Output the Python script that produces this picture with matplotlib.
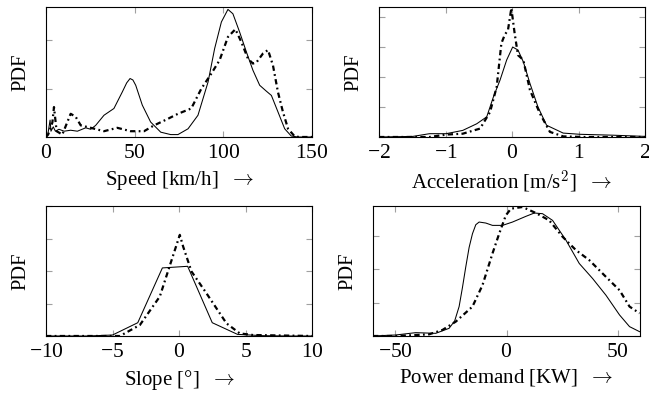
import matplotlib
matplotlib.use("Agg")
import matplotlib.pyplot as plt
import numpy as np

plt.rcParams['font.family'] = ['Liberation Serif', 'DejaVu Serif']
plt.rcParams['mathtext.fontset'] = 'cm'
plt.rcParams['axes.formatter.use_mathtext'] = True

# ---- data (PDF values in arbitrary units, tick spacing = 1) ----
speed_solid_x = [0, 1.1, 2.3, 2.8, 4.1, 5.3, 7.3, 10.2, 13.9, 17.7, 22.4, 25.2, 28, 32.7, 38.3, 43, 45.5, 47.4, 49, 50.6, 54.3, 59, 64.7, 70.3, 74.4, 80.1, 85.7, 91.4, 95.1, 98.9, 102.6, 105.4, 109.2, 113, 116.7, 120.5, 124.2, 127.1, 130.8, 134.6, 138.3, 142.1, 150]
speed_solid_y = [0, 0.07, 0.35, 0.12, 0.21, 0.12, 0.16, 0.12, 0.14, 0.12, 0.19, 0.16, 0.24, 0.45, 0.59, 0.93, 1.12, 1.21, 1.18, 1.07, 0.66, 0.31, 0.1, 0.05, 0.05, 0.17, 0.45, 1.14, 1.83, 2.38, 2.64, 2.55, 2.17, 1.76, 1.38, 1.07, 0.95, 0.86, 0.52, 0.17, 0.02, 0, 0]
speed_dash_x = [0, 1.2, 3.6, 4.5, 5.0, 6, 9.2, 13.9, 16.7, 19.6, 25.2, 32.7, 40.2, 47.7, 55.3, 60.9, 68.4, 74.4, 81.9, 87.6, 93.2, 97.9, 102.6, 106.8, 110.1, 113.9, 116.7, 118.6, 122.4, 125.2, 128, 130.8, 133.6, 136.5, 140.3, 143, 150]
speed_dash_y = [0, 0.05, 0.3, 0.62, 0.45, 0.12, 0.05, 0.48, 0.42, 0.24, 0.19, 0.12, 0.19, 0.12, 0.12, 0.24, 0.37, 0.48, 0.59, 1.0, 1.31, 1.59, 2.07, 2.23, 1.97, 1.62, 1.52, 1.54, 1.73, 1.8, 1.48, 0.93, 0.52, 0.17, 0.01, 0, 0]

acc_solid_x = [-2, -1.49, -1.24, -0.99, -0.74, -0.53, -0.38, -0.28, -0.18, -0.08, 0.01, 0.09, 0.17, 0.27, 0.39, 0.52, 0.77, 1.02, 1.52, 2.0]
acc_solid_y = [0, 0.02, 0.11, 0.11, 0.22, 0.44, 0.67, 1.33, 1.89, 2.56, 2.99, 2.89, 2.5, 1.78, 1.0, 0.39, 0.13, 0.09, 0.06, 0.02]
acc_dash_x = [-2, -1.24, -0.99, -0.74, -0.48, -0.33, -0.23, -0.16, -0.11, -0.06, -0.01, 0.04, 0.09, 0.17, 0.27, 0.42, 0.57, 0.77, 1.07, 2.0]
acc_dash_y = [0, 0, 0.08, 0.11, 0.28, 0.83, 1.67, 3.11, 3.39, 3.56, 4.28, 3.44, 2.72, 2.56, 1.56, 0.78, 0.17, 0.02, 0, 0]

slope_solid_x = [-10, -8.2, -6.9, -5, -3.1, -1.25, 0.65, 2.5, 4.4, 6.3, 8.2, 10]
slope_solid_y = [0, 0, 0, 0.03, 0.41, 2.1, 2.15, 0.41, 0.05, 0.01, 0, 0]
slope_dash_x = [-10, -5.5, -4.44, -2.94, -1.44, -0.81, 0.06, 0.31, 0.94, 2.06, 3.57, 4.57, 5.57, 10]
slope_dash_y = [0, 0, 0, 0.34, 1.22, 2.02, 3.12, 2.76, 1.99, 1.32, 0.39, 0.08, 0.03, 0]

power_solid_x = [-60.4, -49.8, -40.8, -31.8, -25.8, -23.3, -21.3, -19.8, -18.3, -16.8, -15.3, -13.8, -12.3, -9.3, -6.3, -1.8, 2.7, 8.7, 12.5, 16.2, 20.7, 26.7, 32.7, 38.7, 44.7, 50.8, 55.3, 59.8]
power_solid_y = [0, 0.03, 0.1, 0.08, 0.23, 0.45, 0.88, 1.45, 2.07, 2.65, 3.06, 3.33, 3.41, 3.38, 3.31, 3.31, 3.41, 3.58, 3.68, 3.66, 3.46, 2.87, 2.17, 1.72, 1.22, 0.63, 0.28, 0.13]
power_dash_x = [-60, -49.8, -34.8, -28.8, -22.8, -15.3, -10.8, -6.3, -3.3, -0.3, 2.0, 7.2, 13.2, 19.2, 25.2, 31.2, 37.2, 44.7, 50.8, 55.3, 59.8]
power_dash_y = [0, 0, 0.05, 0.18, 0.43, 0.88, 1.52, 2.47, 3.06, 3.61, 3.81, 3.86, 3.68, 3.46, 2.97, 2.57, 2.27, 1.77, 1.37, 0.88, 0.68]

panels = [
    dict(box=(46, 7, 312, 137), xlim=(0, 150), xticks=[0, 50, 100, 150], ytop=2.69,
         sx=speed_solid_x, sy=speed_solid_y, dx=speed_dash_x, dy=speed_dash_y,
         label=r"Speed [km/h]  $\rightarrow$"),
    dict(box=(379, 7, 645, 137), xlim=(-2, 2), xticks=[-2, -1, 0, 1, 2], ytop=4.32,
         sx=acc_solid_x, sy=acc_solid_y, dx=acc_dash_x, dy=acc_dash_y,
         label=r"Acceleration [m/s$^2$]  $\rightarrow$"),
    dict(box=(46, 206, 312, 336), xlim=(-10, 10), xticks=[-10, -5, 0, 5, 10], ytop=4.01,
         sx=slope_solid_x, sy=slope_solid_y, dx=slope_dash_x, dy=slope_dash_y,
         label="Slope [\u00b0]  $\\rightarrow$"),
    dict(box=(373, 206, 640, 336), xlim=(-60, 60), xticks=[-50, 0, 50], ytop=3.89,
         sx=power_solid_x, sy=power_solid_y, dx=power_dash_x, dy=power_dash_y,
         label=r"Power demand [KW]  $\rightarrow$"),
]

W, H = 649, 397
fig = plt.figure(figsize=(W / 100, H / 100), dpi=100)

for p in panels:
    x0, y0, x1, y1 = p['box']
    ax = fig.add_axes([x0 / W, (H - y1) / H, (x1 - x0) / W, (y1 - y0) / H])
    ax.plot(p['sx'], p['sy'], color='black', lw=0.75, solid_joinstyle='round')
    ax.plot(p['dx'], p['dy'], color='black', lw=1.6,
            linestyle=(0, (2.4, 1.5, 0.8, 1.5)), dash_capstyle='butt')
    ax.set_xlim(*p['xlim'])
    ax.set_ylim(0, p['ytop'])
    ax.set_xticks(p['xticks'])
    ax.set_yticks(np.arange(0, int(p['ytop']) + 1))
    ax.tick_params(axis='both', direction='in', length=4.5, width=0.8, color='#a0a0a0',
                   top=True, right=True, labelsize=15.5, pad=5)
    ax.tick_params(axis='y', labelleft=False)
    for s in ax.spines.values():
        s.set_linewidth(0.8)
    ax.set_xlabel(p['label'], fontsize=15, labelpad=4)
    ax.set_ylabel("PDF", fontsize=14.8, labelpad=11)

fig.savefig("out.png", dpi=100)
